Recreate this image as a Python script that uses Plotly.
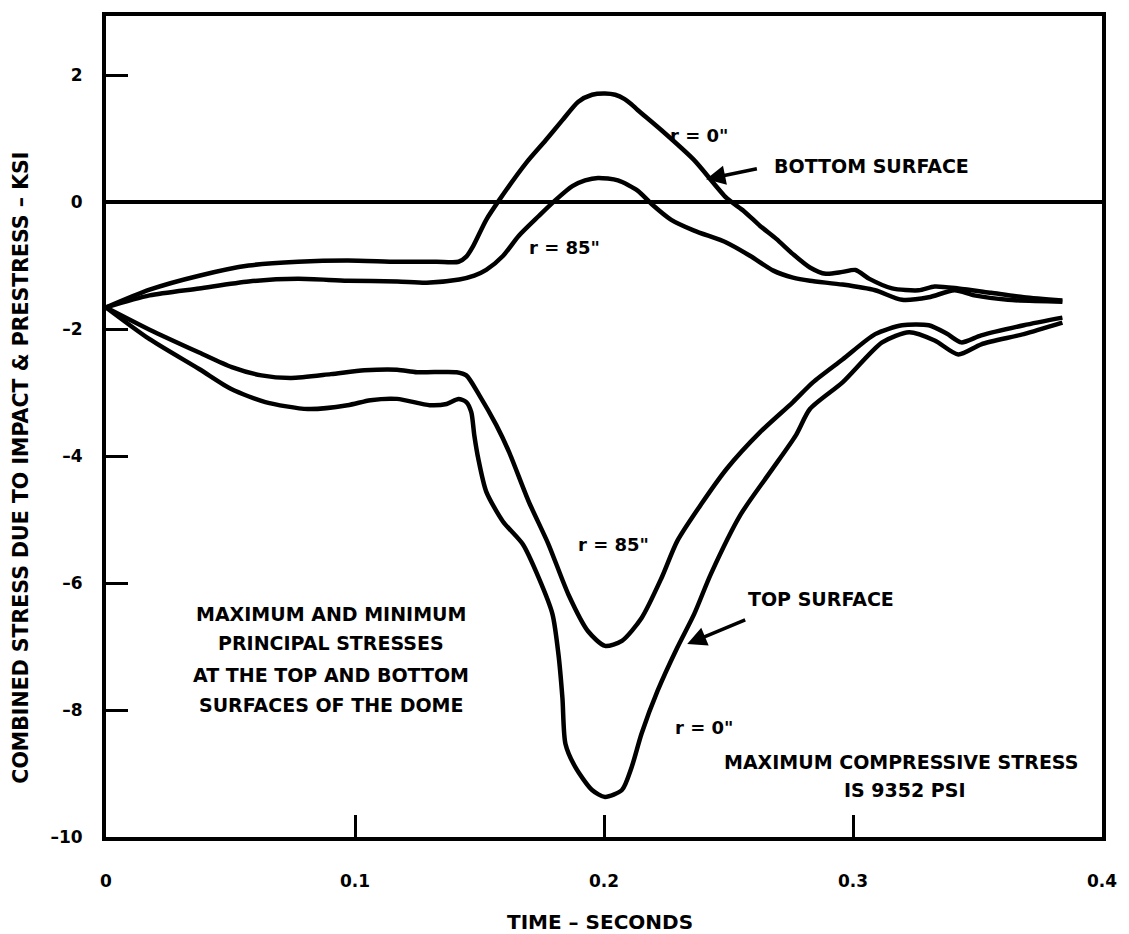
import plotly.graph_objects as go

# ---------------- data ----------------
bot0_t = [0.0, 0.0175, 0.0374, 0.0573, 0.0771, 0.097, 0.117, 0.1328, 0.1416, 0.1447, 0.1475,
          0.1527, 0.1579, 0.1686, 0.1765, 0.1833, 0.1897, 0.1952, 0.2004, 0.2045, 0.2083,
          0.211, 0.2135, 0.2231, 0.2362, 0.2493, 0.2561, 0.2628, 0.2692, 0.2759, 0.2827,
          0.2891, 0.2958, 0.301, 0.3066, 0.3157, 0.3264, 0.3328, 0.3423, 0.3555, 0.3686,
          0.3841]
bot0_s = [-1.66, -1.38, -1.16, -1.00, -0.94, -0.92, -0.94, -0.94, -0.94, -0.86, -0.69,
          -0.28, 0.03, 0.61, 0.97, 1.29, 1.58, 1.69, 1.71, 1.69, 1.62,
          1.54, 1.45, 1.13, 0.66, 0.06, -0.14, -0.38, -0.58, -0.82, -1.03,
          -1.13, -1.10, -1.07, -1.21, -1.36, -1.39, -1.33, -1.36, -1.43, -1.50,
          -1.55]

bot85_t = [0.0, 0.0175, 0.0374, 0.0573, 0.0771, 0.097, 0.117, 0.1288, 0.1419, 0.1479, 0.1527,
           0.1594, 0.1658, 0.1738, 0.1805, 0.1873, 0.1924, 0.1976, 0.2056, 0.2135, 0.2191,
           0.227, 0.2362, 0.2493, 0.2588, 0.268, 0.2759, 0.2827, 0.2958, 0.3089, 0.3197,
           0.3304, 0.3408, 0.3487, 0.3622, 0.3841]
bot85_s = [-1.66, -1.47, -1.36, -1.25, -1.21, -1.24, -1.25, -1.27, -1.22, -1.16, -1.07,
           -0.85, -0.53, -0.22, 0.03, 0.25, 0.34, 0.38, 0.34, 0.18, -0.03,
           -0.28, -0.45, -0.64, -0.85, -1.08, -1.19, -1.24, -1.30, -1.39, -1.54,
           -1.50, -1.39, -1.47, -1.54, -1.57]

top85_t = [0.0, 0.0175, 0.0374, 0.0505, 0.0624, 0.0744, 0.0903, 0.1038, 0.1169, 0.1249, 0.1408,
           0.1447, 0.1499, 0.1567, 0.1618, 0.1698, 0.1777, 0.1857, 0.1936, 0.2004, 0.2072,
           0.2151, 0.2231, 0.2294, 0.239, 0.2493, 0.2628, 0.2759, 0.2839, 0.2958, 0.3089,
           0.3197, 0.3304, 0.3376, 0.3435, 0.3515, 0.3686, 0.3841]
top85_s = [-1.66, -2.01, -2.37, -2.60, -2.73, -2.77, -2.71, -2.65, -2.64, -2.68, -2.68,
           -2.73, -3.04, -3.51, -3.93, -4.72, -5.39, -6.18, -6.76, -6.99, -6.91,
           -6.55, -5.92, -5.34, -4.76, -4.20, -3.62, -3.15, -2.84, -2.48, -2.08,
           -1.94, -1.94, -2.07, -2.21, -2.10, -1.94, -1.82]

top0_t = [0.0, 0.0175, 0.0374, 0.0505, 0.064, 0.0811, 0.097, 0.1062, 0.1169, 0.13, 0.1368,
          0.1416, 0.1447, 0.1467, 0.1479, 0.1495, 0.1527, 0.1594, 0.1674, 0.1738, 0.1793,
          0.1817, 0.1833, 0.1845, 0.1885, 0.1952, 0.2004, 0.2072, 0.2111, 0.2151, 0.2215,
          0.2294, 0.2362, 0.2429, 0.2549, 0.2668, 0.2771, 0.2827, 0.2958, 0.3117, 0.3225,
          0.3328, 0.3423, 0.3515, 0.3686, 0.3841]
top0_s = [-1.66, -2.16, -2.63, -2.95, -3.15, -3.26, -3.20, -3.12, -3.10, -3.20, -3.18,
          -3.10, -3.15, -3.31, -3.67, -4.04, -4.56, -5.03, -5.39, -5.92, -6.49,
          -7.12, -7.81, -8.53, -8.90, -9.26, -9.37, -9.26, -8.90, -8.37, -7.70,
          -7.02, -6.49, -5.86, -4.92, -4.25, -3.67, -3.26, -2.84, -2.21, -2.05,
          -2.18, -2.40, -2.24, -2.08, -1.90]

x_tickvals = [0, 0.1, 0.2, 0.3, 0.4]
x_ticktext = ["0", "0.1", "0.2", "0.3", "0.4"]
y_tickvals = [2, 0, -2, -4, -6, -8, -10]
y_ticktext = ["2", "0", "\u20132", "\u20134", "\u20136", "\u20138", "\u201310"]

FONT = "DejaVu Sans"
BLACK = "#000000"

fig = go.Figure()
for t, s in [(bot0_t, bot0_s), (bot85_t, bot85_s), (top85_t, top85_s), (top0_t, top0_s)]:
    fig.add_trace(go.Scatter(x=t, y=s, mode="lines",
                             line=dict(color=BLACK, width=4.5, shape="spline", smoothing=0.7),
                             showlegend=False, hoverinfo="skip"))

def txt(x, y, text, size=19):
    fig.add_annotation(x=x, y=y, xref="x", yref="y", text=text, showarrow=False,
                       font=dict(family=FONT, size=size, color=BLACK, weight="bold"),
                       xanchor="center", yanchor="middle")

txt(0.2382, 1.05, 'r = 0"', 18)
txt(0.3074, 0.56, "BOTTOM SURFACE")
txt(0.1841, -0.72, 'r = 85"', 18)
txt(0.204, -5.39, 'r = 85"', 18)
txt(0.2871, -6.25, "TOP SURFACE")
txt(0.2402, -8.28, 'r = 0"', 18)
txt(0.3193, -8.82, "MAXIMUM COMPRESSIVE STRESS")
txt(0.3209, -9.26, "IS 9352 PSI")
txt(0.0903, -6.49, "MAXIMUM AND MINIMUM")
txt(0.0903, -6.94, "PRINCIPAL STRESSES")
txt(0.0903, -7.45, "AT THE TOP AND BOTTOM")
txt(0.0903, -7.92, "SURFACES OF THE DOME")

# arrows (head at x,y; tail at ax,ay)
for (hx, hy, tx, ty) in [(0.241, 0.36, 0.262, 0.53), (0.2334, -6.96, 0.2573, -6.57)]:
    fig.add_annotation(x=hx, y=hy, ax=tx, ay=ty, xref="x", yref="y", axref="x", ayref="y",
                       text="", showarrow=True, arrowhead=2, arrowsize=1.1,
                       arrowwidth=3.5, arrowcolor=BLACK, standoff=0)

# axis titles
fig.add_annotation(x=-0.0855, y=0.4497, xref="paper", yref="paper",
                   text="COMBINED STRESS DUE TO IMPACT & PRESTRESS \u2013 KSI", textangle=-90,
                   showarrow=False, xanchor="center", yanchor="middle",
                   font=dict(family=FONT, size=20.5, color=BLACK, weight="bold"))
fig.add_annotation(x=0.496, y=-0.103, xref="paper", yref="paper",
                   text="TIME \u2013 SECONDS", showarrow=False,
                   xanchor="center", yanchor="middle",
                   font=dict(family=FONT, size=20, color=BLACK, weight="bold"))

fig.update_xaxes(range=[0, 0.4], tickvals=x_tickvals, ticktext=x_ticktext,
                 ticks="inside", ticklen=22, tickwidth=3, tickcolor=BLACK,
                 showline=True, linewidth=4, linecolor=BLACK, mirror=True,
                 showgrid=False, zeroline=False, ticklabelstandoff=26,
                 tickfont=dict(family=FONT, size=17, color=BLACK, weight="bold"))
fig.update_yaxes(range=[-10, 2.93], tickvals=y_tickvals, ticktext=y_ticktext,
                 ticks="inside", ticklen=22, tickwidth=3, tickcolor=BLACK,
                 showline=True, linewidth=4, linecolor=BLACK, mirror=True,
                 showgrid=False, zeroline=True, zerolinecolor=BLACK, zerolinewidth=3.5,
                 ticklabelstandoff=16,
                 tickfont=dict(family=FONT, size=17, color=BLACK, weight="bold"))

fig.update_layout(width=1129, height=934, margin=dict(l=106, r=17, t=12, b=97),
                  paper_bgcolor="white", plot_bgcolor="white",
                  font=dict(family=FONT, color=BLACK))

fig.write_html("out.html")
